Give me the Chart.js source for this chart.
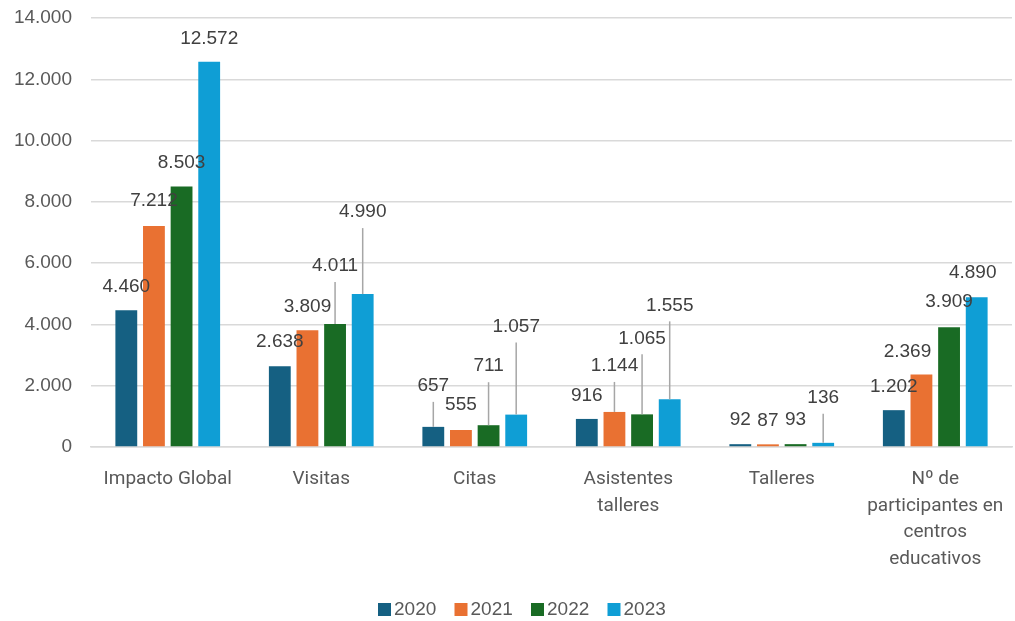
<!DOCTYPE html>
<html>
<head>
<meta charset="utf-8">
<script src="https://cdn.jsdelivr.net/npm/chart.js@4.4.1/dist/chart.umd.min.js"></script>
<style>
  html, body { margin: 0; padding: 0; background: #ffffff; }
  #wrap { width: 1015px; height: 621px; }
</style>
</head>
<body>
<div id="wrap"><canvas id="c" width="1015" height="621"></canvas></div>
<script>
// ---- data ----
const categories = [
  'Impacto Global',
  'Visitas',
  'Citas',
  ['Asistentes', 'talleres'],
  'Talleres',
  ['Nº de', 'participantes en', 'centros', 'educativos']
];
const seriesNames = ['2020', '2021', '2022', '2023'];
const values2020 = [4460, 2638, 657, 916, 92, 1202];
const values2021 = [7212, 3809, 555, 1144, 87, 2369];
const values2022 = [8503, 4011, 711, 1065, 93, 3909];
const values2023 = [12572, 4990, 1057, 1555, 136, 4890];
const yTicks = [0, 2000, 4000, 6000, 8000, 10000, 12000, 14000];

// ---- styling ----
const colors = ['#156082', '#E97132', '#196B24', '#0F9ED5'];
// label placement (px above bar top, horizontal shift) per series/category
const labelLift = [
  [24, 24, 41, 23, 24, 23],
  [25, 24, 25, 46, 24, 23],
  [24, 58, 59, 76, 24, 25],
  [23, 82, 88, 94, 45, 24]
];
const labelShift = [
  [0, 0, 0, 0, 0, 0],
  [0, 0, 0, 0, 0, -14],
  [0, 0, 0, 0, 0, 0],
  [0, 0, 0, 0, 0, -4]
];

function fmt(v) {
  return String(v).replace(/\B(?=(\d{3})+(?!\d))/g, '.');
}

const allSeries = [values2020, values2021, values2022, values2023];

const labelPlugin = {
  id: 'barLabels',
  afterDatasetsDraw(chart) {
    const ctx = chart.ctx;
    ctx.save();
    chart.data.datasets.forEach((ds, di) => {
      const meta = chart.getDatasetMeta(di);
      meta.data.forEach((el, i) => {
        const lift = labelLift[di][i];
        const x = el.x + labelShift[di][i];
        const y = el.y - lift;
        if (lift > 32) {
          ctx.strokeStyle = '#a6a6a6';
          ctx.lineWidth = 1.5;
          ctx.beginPath();
          ctx.moveTo(el.x, y + 16);
          ctx.lineTo(el.x, el.y);
          ctx.stroke();
        }
        ctx.fillStyle = '#404040';
        ctx.font = '19px "Liberation Sans", Arial, sans-serif';
        ctx.textAlign = 'center';
        ctx.textBaseline = 'middle';
        ctx.fillText(fmt(ds.data[i]), x, y);
      });
    });
    ctx.restore();
  }
};

const legendPlugin = {
  id: 'customLegend',
  afterDraw(chart) {
    const ctx = chart.ctx;
    ctx.save();
    ctx.font = '19px "Liberation Sans", Arial, sans-serif';
    ctx.textBaseline = 'middle';
    ctx.textAlign = 'left';
    const startX = 378, cy = 609, pitch = 76.5;
    chart.data.datasets.forEach((ds, di) => {
      const x = startX + di * pitch;
      ctx.fillStyle = ds.backgroundColor;
      ctx.fillRect(x, cy - 6, 13, 13);
      ctx.fillStyle = '#595959';
      ctx.fillText(ds.label, x + 16, cy + 1);
    });
    ctx.restore();
  }
};

new Chart(document.getElementById('c'), {
  type: 'bar',
  data: {
    labels: categories,
    datasets: seriesNames.map((n, i) => ({
      label: n,
      data: allSeries[i],
      backgroundColor: colors[i],
      borderWidth: 0,
      barPercentage: 0.79,
      categoryPercentage: 0.72
    }))
  },
  options: {
    responsive: false,
    animation: false,
    devicePixelRatio: 1,
    layout: { padding: { top: 18, right: 3, left: 0, bottom: 0 } },
    plugins: {
      legend: { display: false },
      tooltip: { enabled: false }
    },
    scales: {
      x: {
        grid: { display: false },
        border: { display: true, color: '#d9d9d9', width: 1.5 },
        ticks: {
          color: '#595959',
          font: { family: 'Roboto, "Liberation Sans", sans-serif', size: 19, lineHeight: 1.4 },
          padding: 11,
          maxRotation: 0,
          autoSkip: false
        },
        afterFit(scale) { scale.height = 621 - 447; }
      },
      y: {
        min: 0,
        max: 14000,
        afterBuildTicks(scale) { scale.ticks = yTicks.map(v => ({ value: v })); },
        grid: { color: '#d9d9d9', lineWidth: 1.5, drawTicks: false },
        border: { display: false },
        ticks: {
          color: '#595959',
          font: { family: '"Liberation Sans", Arial, sans-serif', size: 19 },
          padding: 19,
          callback: v => fmt(v)
        },
        afterFit(scale) {
          scale.width = 91;
          scale.paddingTop = 0;
          scale.paddingBottom = 0;
        }
      }
    }
  },
  plugins: [labelPlugin, legendPlugin]
});
</script>
</body>
</html>
